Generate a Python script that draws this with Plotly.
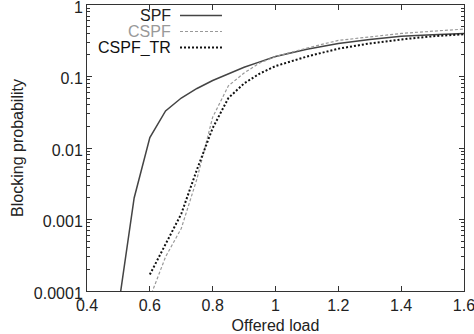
import plotly.graph_objects as go

load = [0.5, 0.55, 0.6, 0.65, 0.7, 0.75, 0.8, 0.85, 0.9, 0.95, 1.0, 1.1, 1.2, 1.3, 1.4, 1.5, 1.6]
spf = [0.00006, 0.002, 0.014, 0.033, 0.05, 0.068, 0.088, 0.11, 0.135, 0.16, 0.19, 0.24, 0.29, 0.33, 0.365, 0.385, 0.40]
load_c = [0.6, 0.65, 0.7, 0.75, 0.8, 0.85, 0.9, 0.95, 1.0, 1.1, 1.2, 1.3, 1.4, 1.5, 1.6]
cspf = [0.00008, 0.0003, 0.00075, 0.0037, 0.027, 0.074, 0.112, 0.155, 0.19, 0.25, 0.32, 0.36, 0.40, 0.43, 0.46]
cspf_tr = [0.00017, 0.00045, 0.0012, 0.005, 0.019, 0.05, 0.08, 0.11, 0.14, 0.19, 0.245, 0.29, 0.33, 0.365, 0.39]

x_ticks = [0.4, 0.6, 0.8, 1.0, 1.2, 1.4, 1.6]
x_labels = ["0.4", "0.6", "0.8", "1", "1.2", "1.4", "1.6"]
y_ticks = [0.0001, 0.001, 0.01, 0.1, 1]
y_labels = ["0.0001", "0.001", "0.01", "0.1", "1"]

names = ["SPF", "CSPF", "CSPF_TR"]
colors = ["#444444", "#999999", "#111111"]
dashes = ["solid", "3px,2px", "2px,2px"]
widths = [1.5, 1.2, 2]
text_colors = ["#222222", "#999999", "#111111"]
box_heights = [13, 13, 17]

FONT = "Liberation Sans, Arial, sans-serif"

fig = go.Figure()
series = [(load, spf), (load_c, cspf), (load_c, cspf_tr)]
for (xs, ys), n, c, d, w in zip(series, names, colors, dashes, widths):
    fig.add_trace(go.Scatter(x=xs, y=ys, mode="lines", name=n,
                             line=dict(color=c, dash=d, width=w), showlegend=False))

# manual gnuplot-style key (text right-aligned, sample on the right)
rows = [0.9633, 0.9073, 0.8514]
for n, c, d, w, tc, yy, bh in zip(names, colors, dashes, widths, text_colors, rows, box_heights):
    fig.add_annotation(x=0.2255, y=yy, xref="paper", yref="paper", text=n,
                       showarrow=False, xanchor="right", yanchor="middle", borderpad=0,
                       height=bh, font=dict(size=16, color=tc, family=FONT))
    fig.add_shape(type="line", xref="paper", yref="paper", x0=0.2467, x1=0.358,
                  y0=yy, y1=yy, line=dict(color=c, dash=d, width=w))

fig.update_layout(
    width=474, height=334,
    margin=dict(l=87, r=10, t=5, b=43, autoexpand=False),
    paper_bgcolor="white", plot_bgcolor="white",
    font=dict(family=FONT, size=16, color="#222222"),
)
fig.update_xaxes(range=[0.3999, 1.6001], tickvals=x_ticks, ticktext=x_labels,
                 ticks="inside", ticklen=5, ticklabeloverflow="allow",
                 showline=True, linecolor="#333333", linewidth=1, mirror="allticks",
                 showgrid=False, zeroline=False, tickcolor="#333333", automargin=False,
                 title=dict(text="Offered load", standoff=6, font=dict(size=16)),
                 tickfont=dict(size=16))
fig.update_yaxes(type="log", range=[-4.0001, 0.0001], ticks="inside", ticklen=5,
                 ticklabeloverflow="allow", automargin=False, ticklabelshift=2,
                 showline=True, linecolor="#333333", linewidth=1, mirror="allticks",
                 showgrid=False, zeroline=False, tickcolor="#333333",
                 tickvals=y_ticks, ticktext=y_labels,
                 minor=dict(ticks="inside", ticklen=3, tickcolor="#333333", showgrid=False,
                            tickvals=[m * 10 ** e for e in range(-4, 0) for m in range(2, 10)]),
                 title=dict(text="Blocking probability", standoff=6, font=dict(size=16)),
                 tickfont=dict(size=16))

fig.write_html("out.html")
